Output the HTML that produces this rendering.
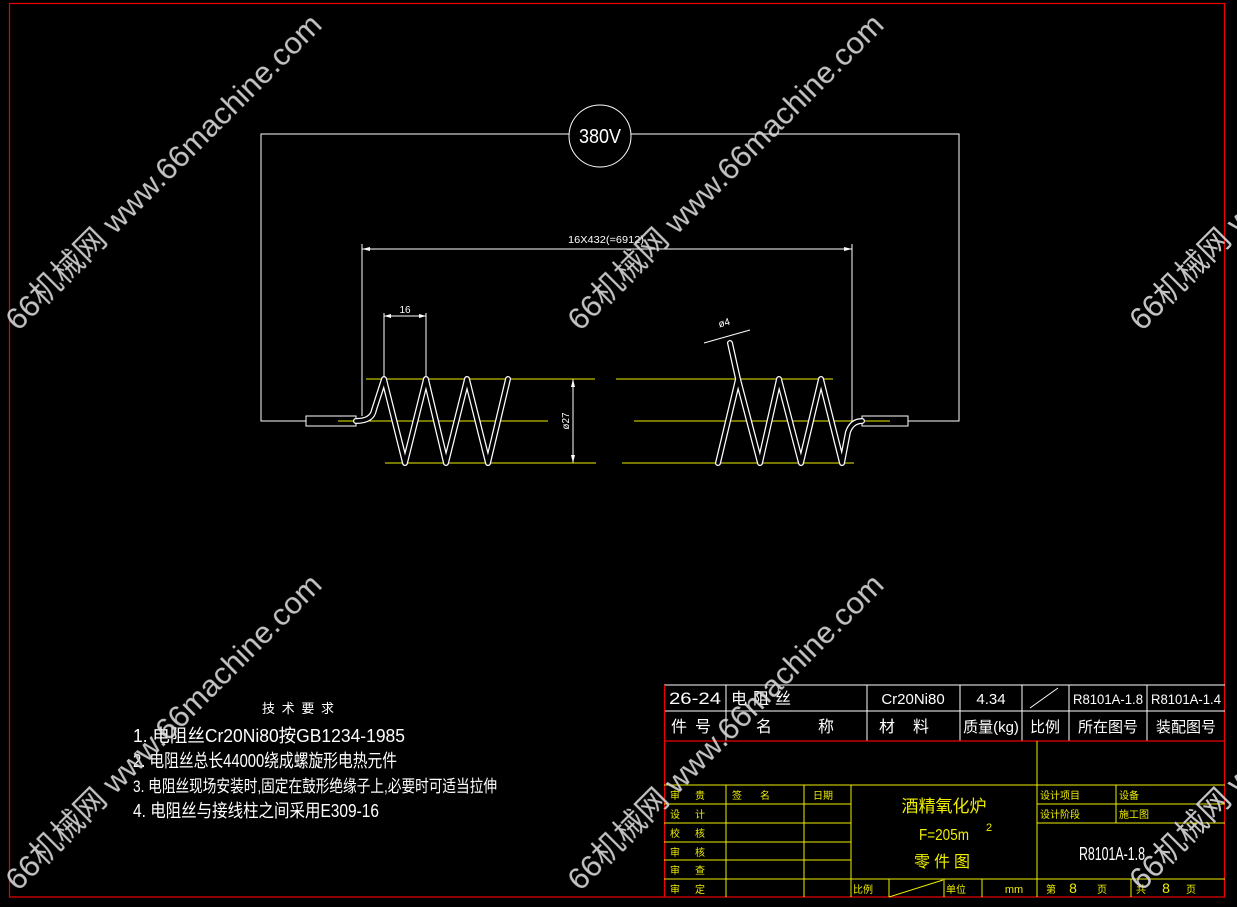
<!DOCTYPE html>
<html><head><meta charset="utf-8"><style>
html,body{margin:0;padding:0;background:#000;}
svg{display:block}
text{font-family:"Liberation Sans","Noto Sans CJK SC",sans-serif;}
</style></head><body>
<svg width="1237" height="907" viewBox="0 0 1237 907" xmlns="http://www.w3.org/2000/svg">
<rect width="1237" height="907" fill="#000"/>
<rect x="9.5" y="3.5" width="1215" height="893.5" fill="none" stroke="#e00" stroke-width="1.2"/>

<g stroke="#fff" stroke-width="1" fill="none">
<polyline points="569,134 261,134 261,421 306,421"/>
<polyline points="631,134 959,134 959,421 908,421"/>
<circle cx="600" cy="136" r="31"/>
<line x1="362" y1="249" x2="852" y2="249"/>
<line x1="362" y1="244" x2="362" y2="416"/>
<line x1="852" y1="244" x2="852" y2="421"/>
<line x1="384" y1="313" x2="384" y2="378"/>
<line x1="426" y1="313" x2="426" y2="378"/>
<line x1="384" y1="316" x2="426" y2="316"/>
<line x1="573" y1="379" x2="573" y2="463"/>
<line x1="704" y1="343" x2="750" y2="330"/>
<rect x="306" y="416" width="50" height="10"/>
<rect x="862" y="416" width="46" height="10"/>
</g>
<g fill="#fff">
<polygon points="362,249 370,247 370,251"/><polygon points="852,249 844,247 844,251"/>
<polygon points="384,316 391,314 391,318"/><polygon points="426,316 419,314 419,318"/>
<polygon points="573,379 571,387 575,387"/><polygon points="573,463 571,455 575,455"/>
</g>
<text x="606" y="243" font-size="10" fill="#fff" text-anchor="middle" textLength="76" lengthAdjust="spacingAndGlyphs">16X432(=6912)</text>
<text x="405" y="313" font-size="10" fill="#fff" text-anchor="middle">16</text>
<text x="725" y="326" font-size="10" fill="#fff" text-anchor="middle" transform="rotate(-15 725 326)">ø4</text>
<text x="569" y="421" font-size="10" fill="#fff" text-anchor="middle" transform="rotate(-90 569 421)">ø27</text>
<text x="600" y="143" font-size="20" fill="#fff" text-anchor="middle" textLength="42" lengthAdjust="spacingAndGlyphs">380V</text>

<g stroke="#ee0" stroke-width="1">
<line x1="366" y1="379" x2="595" y2="379"/><line x1="616" y1="379" x2="833" y2="379"/>
<line x1="338" y1="421" x2="548" y2="421"/><line x1="634" y1="421" x2="890" y2="421"/>
<line x1="385" y1="463" x2="596" y2="463"/><line x1="622" y1="463" x2="854" y2="463"/>
</g>

<g fill="none" stroke-linejoin="round" stroke-linecap="round">
<path d="M356,421 Q372,421 374,410 L384,379 L405,463 L426,379 L446,463 L467,379 L488,463 L508,379" stroke="#fff" stroke-width="6"/>
<path d="M356,421 Q372,421 374,410 L384,379 L405,463 L426,379 L446,463 L467,379 L488,463 L508,379" stroke="#000" stroke-width="3.5"/>
<path d="M730,343 L738,379 L718,463 M738,379 L760,463 L779,379 L801,463 L821,379 L842,463 L848,432 Q852,421 862,421" stroke="#fff" stroke-width="6"/>
<path d="M730,343 L738,379 L718,463 M738,379 L760,463 L779,379 L801,463 L821,379 L842,463 L848,432 Q852,421 862,421" stroke="#000" stroke-width="3.5"/>
</g>

<g fill="#fff">
<text x="262" y="713" font-size="13" textLength="72" lengthAdjust="spacing">技术要求</text>
<text x="133" y="742" font-size="18" textLength="272" lengthAdjust="spacingAndGlyphs">1.  电阻丝Cr20Ni80按GB1234-1985</text>
<text x="133" y="767" font-size="18" textLength="264" lengthAdjust="spacingAndGlyphs">2.  电阻丝总长44000绕成螺旋形电热元件</text>
<text x="133" y="792" font-size="17" textLength="364" lengthAdjust="spacingAndGlyphs">3.  电阻丝现场安装时,固定在鼓形绝缘子上,必要时可适当拉伸</text>
<text x="133" y="817" font-size="18" textLength="246" lengthAdjust="spacingAndGlyphs">4.  电阻丝与接线柱之间采用E309-16</text>
</g>

<g stroke="#fff" stroke-width="1" fill="none">
<line x1="664" y1="685" x2="1225" y2="685"/>
<line x1="664" y1="711" x2="1225" y2="711"/>
<line x1="726" y1="685" x2="726" y2="741"/>
<line x1="867" y1="685" x2="867" y2="741"/>
<line x1="960" y1="685" x2="960" y2="741"/>
<line x1="1022" y1="685" x2="1022" y2="741"/>
<line x1="1069" y1="685" x2="1069" y2="741"/>
<line x1="1147" y1="685" x2="1147" y2="741"/>
<line x1="1030" y1="708" x2="1058" y2="688"/>
</g>
<line x1="664" y1="741" x2="1225" y2="741" stroke="#e00" stroke-width="1.2"/>
<line x1="664.5" y1="685" x2="664.5" y2="897" stroke="#e00" stroke-width="1.2"/>
<g stroke="#ee0" stroke-width="1" fill="none">
<line x1="1037" y1="741" x2="1037" y2="897"/>
<line x1="664" y1="785" x2="1225" y2="785"/>
<line x1="664" y1="804" x2="851" y2="804"/>
<line x1="1037" y1="804" x2="1225" y2="804"/>
<line x1="664" y1="823" x2="851" y2="823"/>
<line x1="1037" y1="823" x2="1225" y2="823"/>
<line x1="664" y1="842" x2="851" y2="842"/>
<line x1="664" y1="860" x2="851" y2="860"/>
<line x1="664" y1="879" x2="1225" y2="879"/>
<line x1="726" y1="785" x2="726" y2="897"/>
<line x1="804" y1="785" x2="804" y2="897"/>
<line x1="851" y1="785" x2="851" y2="897"/>
<line x1="1116" y1="785" x2="1116" y2="823"/>
<line x1="889" y1="879" x2="889" y2="897"/>
<line x1="944" y1="879" x2="944" y2="897"/>
<line x1="982" y1="879" x2="982" y2="897"/>
<line x1="1131" y1="879" x2="1131" y2="897"/>
<line x1="889" y1="897" x2="943" y2="880"/>
</g>
<g fill="#fff">
<text x="669" y="704" font-size="17" textLength="52" lengthAdjust="spacingAndGlyphs">26-24</text>
<text x="731" y="704" font-size="16" letter-spacing="6">电阻丝</text>
<text x="913" y="704" font-size="15" text-anchor="middle">Cr20Ni80</text>
<text x="991" y="704" font-size="15" text-anchor="middle">4.34</text>
<text x="1108" y="704" font-size="14" text-anchor="middle" textLength="70" lengthAdjust="spacingAndGlyphs">R8101A-1.8</text>
<text x="1186" y="704" font-size="14" text-anchor="middle" textLength="70" lengthAdjust="spacingAndGlyphs">R8101A-1.4</text>
<text x="695" y="732" font-size="16" text-anchor="middle" letter-spacing="8">件号</text>
<text x="756" y="732" font-size="16">名</text><text x="818" y="732" font-size="16">称</text>
<text x="913" y="732" font-size="16" text-anchor="middle" letter-spacing="18">材料</text>
<text x="991" y="732" font-size="15" text-anchor="middle">质量(kg)</text>
<text x="1045" y="732" font-size="15" text-anchor="middle">比例</text>
<text x="1108" y="732" font-size="15" text-anchor="middle">所在图号</text>
<text x="1186" y="732" font-size="15" text-anchor="middle">装配图号</text>
<text x="1112" y="860" font-size="18" text-anchor="middle" textLength="66" lengthAdjust="spacingAndGlyphs">R8101A-1.8</text>
</g>
<g fill="#ee0" font-size="10">
<text x="670" y="799">审</text><text x="695" y="799">贵</text>
<text x="670" y="818">设</text><text x="695" y="818">计</text>
<text x="670" y="837">校</text><text x="695" y="837">核</text>
<text x="670" y="856">审</text><text x="695" y="856">核</text>
<text x="670" y="874">审</text><text x="695" y="874">查</text>
<text x="670" y="893">审</text><text x="695" y="893">定</text>
<text x="732" y="799">签</text><text x="760" y="799">名</text>
<text x="813" y="799">日期</text>
<text x="853" y="893">比例</text>
<text x="946" y="893">单位</text>
<text x="1040" y="799">设计项目</text><text x="1119" y="799">设备</text>
<text x="1040" y="818">设计阶段</text><text x="1119" y="818">施工图</text>
<text x="1046" y="893">第</text><text x="1097" y="893">页</text>
<text x="1136" y="893">共</text><text x="1186" y="893">页</text>
<text x="1014" y="893" font-size="11" text-anchor="middle">mm</text>
<text x="1073" y="893" font-size="14" text-anchor="middle">8</text>
<text x="1166" y="893" font-size="14" text-anchor="middle">8</text>
<text x="944" y="812" font-size="17" text-anchor="middle">酒精氧化炉</text>
<text x="944" y="840" font-size="16" text-anchor="middle" textLength="50" lengthAdjust="spacingAndGlyphs">F=205m</text>
<text x="986" y="831" font-size="11">2</text>
<text x="944" y="867" font-size="16" text-anchor="middle" letter-spacing="4">零件图</text>
</g>

<g fill="#d8d8d8" font-size="31" opacity="0.9">
<text transform="translate(18,332) rotate(-45)" textLength="432" lengthAdjust="spacingAndGlyphs">66机械网 www.66machine.com</text>
<text transform="translate(580,332) rotate(-45)" textLength="432" lengthAdjust="spacingAndGlyphs">66机械网 www.66machine.com</text>
<text transform="translate(1142,332) rotate(-45)" textLength="432" lengthAdjust="spacingAndGlyphs">66机械网 www.66machine.com</text>
<text transform="translate(18,892) rotate(-45)" textLength="432" lengthAdjust="spacingAndGlyphs">66机械网 www.66machine.com</text>
<text transform="translate(580,892) rotate(-45)" textLength="432" lengthAdjust="spacingAndGlyphs">66机械网 www.66machine.com</text>
<text transform="translate(1142,892) rotate(-45)" textLength="432" lengthAdjust="spacingAndGlyphs">66机械网 www.66machine.com</text>
</g>
</svg>
</body></html>
